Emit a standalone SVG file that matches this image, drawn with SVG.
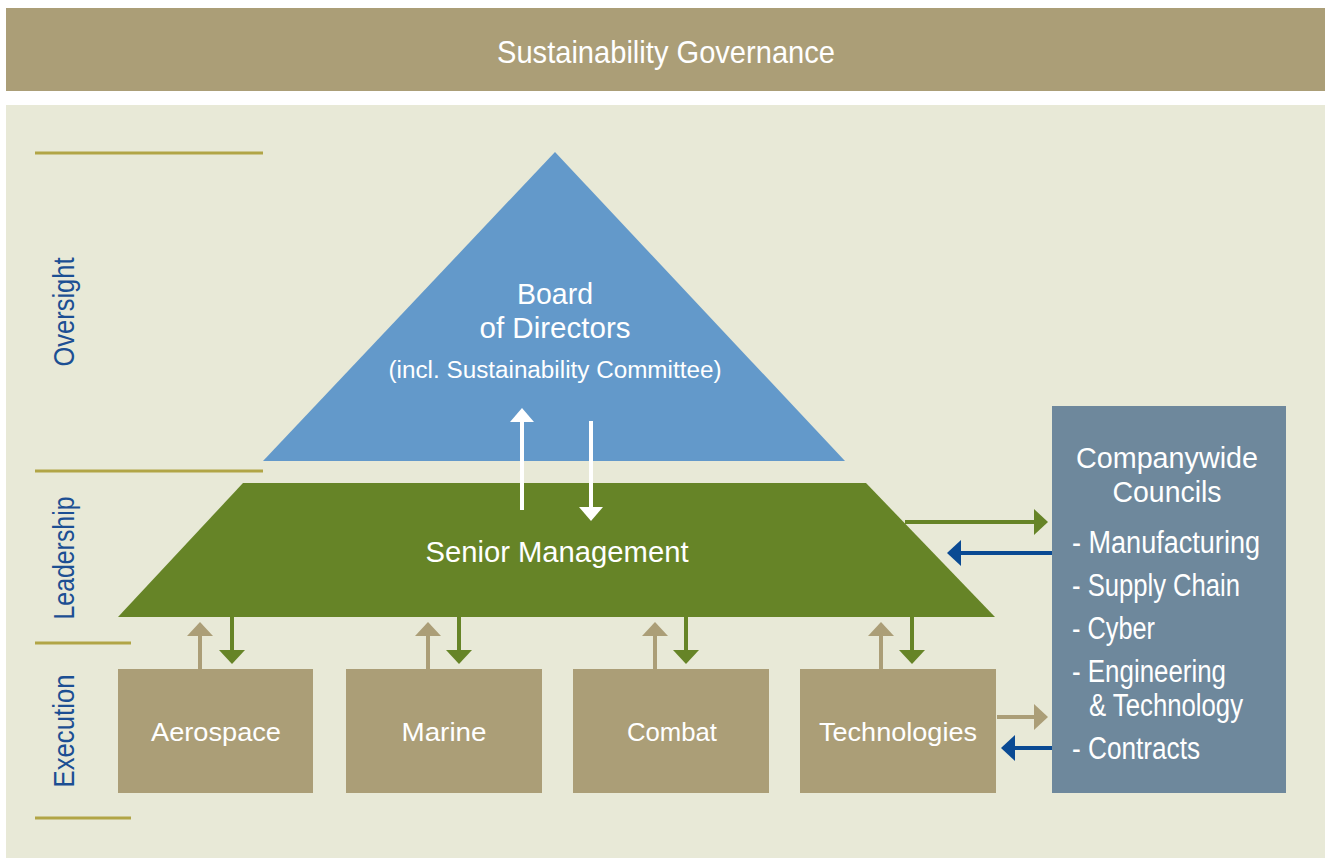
<svg xmlns="http://www.w3.org/2000/svg" width="1327" height="858" viewBox="0 0 1327 858">
<style>
.t{font-family:"Liberation Sans",Arial,sans-serif;fill:#fff}
.lbl{font-family:"Liberation Sans",Arial,sans-serif;fill:#1c4f93;font-size:30px}
.box{fill:#ab9e77}
.sep{stroke:#b1a546;stroke-width:3}
.aw{stroke:#fff;stroke-width:4;fill:none}
.ag{stroke:#668427;stroke-width:4;fill:none}
.at{stroke:#ab9e77;stroke-width:4;fill:none}
.ab{stroke:#0a4a93;stroke-width:4;fill:none}
</style>
<defs>
<marker id="hw" viewBox="0 0 14 24" refX="4" refY="12" markerWidth="14" markerHeight="24" markerUnits="userSpaceOnUse" orient="auto"><path d="M0,0L14,12L0,24z" fill="#fff"/></marker>
<marker id="hg" viewBox="0 0 14 26" refX="4" refY="13" markerWidth="14" markerHeight="26" markerUnits="userSpaceOnUse" orient="auto"><path d="M0,0L14,13L0,26z" fill="#668427"/></marker>
<marker id="ht" viewBox="0 0 14 26" refX="4" refY="13" markerWidth="14" markerHeight="26" markerUnits="userSpaceOnUse" orient="auto"><path d="M0,0L14,13L0,26z" fill="#ab9e77"/></marker>
<marker id="hb" viewBox="0 0 14 26" refX="4" refY="13" markerWidth="14" markerHeight="26" markerUnits="userSpaceOnUse" orient="auto"><path d="M0,0L14,13L0,26z" fill="#0a4a93"/></marker>
</defs>
<rect width="1327" height="858" fill="#fff"/>
<g id="title">
<rect x="6" y="8" width="1319" height="83" fill="#ab9e77"/>
<text class="t" x="666" y="63" font-size="32" text-anchor="middle" textLength="338" lengthAdjust="spacingAndGlyphs">Sustainability Governance</text>
</g>
<rect x="6" y="105" width="1319" height="753" fill="#e8e9d7"/>
<g id="levels">
<line class="sep" x1="35" y1="153" x2="263" y2="153"/>
<line class="sep" x1="35" y1="471" x2="263" y2="471"/>
<line class="sep" x1="35" y1="643" x2="131" y2="643"/>
<line class="sep" x1="35" y1="818" x2="131" y2="818"/>
<text class="lbl" transform="translate(74,312) rotate(-90)" text-anchor="middle" textLength="109" lengthAdjust="spacingAndGlyphs">Oversight</text>
<text class="lbl" transform="translate(74,558) rotate(-90)" text-anchor="middle" textLength="123" lengthAdjust="spacingAndGlyphs">Leadership</text>
<text class="lbl" transform="translate(74,731) rotate(-90)" text-anchor="middle" textLength="113" lengthAdjust="spacingAndGlyphs">Execution</text>
</g>
<g id="board">
<polygon points="555,152 845,461 263,461" fill="#6399ca"/>
<text class="t" x="555" y="304" font-size="30" text-anchor="middle" textLength="76" lengthAdjust="spacingAndGlyphs">Board</text>
<text class="t" x="555" y="338" font-size="30" text-anchor="middle" textLength="151" lengthAdjust="spacingAndGlyphs">of Directors</text>
<text class="t" x="555" y="378" font-size="23" text-anchor="middle" textLength="333" lengthAdjust="spacingAndGlyphs">(incl. Sustainability Committee)</text>
</g>
<g id="senior">
<polygon points="243,483 866,483 995,617 118,617" fill="#668427"/>
<text class="t" x="557" y="562" font-size="29" text-anchor="middle" textLength="263" lengthAdjust="spacingAndGlyphs">Senior Management</text>
</g>
<g id="aerospace"><rect class="box" x="118" y="669" width="195" height="124"/><text class="t" x="216" y="741" font-size="26" text-anchor="middle" textLength="130" lengthAdjust="spacingAndGlyphs">Aerospace</text></g>
<g id="marine"><rect class="box" x="346" y="669" width="196" height="124"/><text class="t" x="444" y="741" font-size="26" text-anchor="middle" textLength="85" lengthAdjust="spacingAndGlyphs">Marine</text></g>
<g id="combat"><rect class="box" x="573" y="669" width="196" height="124"/><text class="t" x="672" y="741" font-size="26" text-anchor="middle" textLength="90" lengthAdjust="spacingAndGlyphs">Combat</text></g>
<g id="technologies"><rect class="box" x="800" y="669" width="196" height="124"/><text class="t" x="898" y="741" font-size="26" text-anchor="middle" textLength="158" lengthAdjust="spacingAndGlyphs">Technologies</text></g>
<g id="councils">
<rect x="1052" y="406" width="234" height="387" fill="#6e889c"/>
<text class="t" x="1167" y="468" font-size="30" text-anchor="middle" textLength="182" lengthAdjust="spacingAndGlyphs">Companywide</text>
<text class="t" x="1167" y="502" font-size="30" text-anchor="middle" textLength="109" lengthAdjust="spacingAndGlyphs">Councils</text>
<text class="t" x="1072" y="553" font-size="31" textLength="188" lengthAdjust="spacingAndGlyphs">- Manufacturing</text>
<text class="t" x="1072" y="596" font-size="31" textLength="168" lengthAdjust="spacingAndGlyphs">- Supply Chain</text>
<text class="t" x="1072" y="639" font-size="31" textLength="83" lengthAdjust="spacingAndGlyphs">- Cyber</text>
<text class="t" x="1072" y="682" font-size="31" textLength="154" lengthAdjust="spacingAndGlyphs">- Engineering</text>
<text class="t" x="1089" y="716" font-size="31" textLength="154" lengthAdjust="spacingAndGlyphs">&amp; Technology</text>
<text class="t" x="1072" y="759" font-size="31" textLength="128" lengthAdjust="spacingAndGlyphs">- Contracts</text>
</g>
<g id="connectors">
<line class="aw" x1="522" y1="510" x2="522" y2="418" marker-end="url(#hw)"/>
<line class="aw" x1="591" y1="421" x2="591" y2="511" marker-end="url(#hw)"/>
<line class="ag" x1="905" y1="522" x2="1038" y2="522" marker-end="url(#hg)"/>
<line class="ab" x1="1052" y1="553" x2="957" y2="553" marker-end="url(#hb)"/>
<line class="at" x1="997" y1="717" x2="1038" y2="717" marker-end="url(#ht)"/>
<line class="ab" x1="1052" y1="748" x2="1011" y2="748" marker-end="url(#hb)"/>
<line class="at" x1="200" y1="669" x2="200" y2="632" marker-end="url(#ht)"/>
<line class="ag" x1="232" y1="617" x2="232" y2="654" marker-end="url(#hg)"/>
<line class="at" x1="428" y1="669" x2="428" y2="632" marker-end="url(#ht)"/>
<line class="ag" x1="459" y1="617" x2="459" y2="654" marker-end="url(#hg)"/>
<line class="at" x1="655" y1="669" x2="655" y2="632" marker-end="url(#ht)"/>
<line class="ag" x1="686" y1="617" x2="686" y2="654" marker-end="url(#hg)"/>
<line class="at" x1="881" y1="669" x2="881" y2="632" marker-end="url(#ht)"/>
<line class="ag" x1="912" y1="617" x2="912" y2="654" marker-end="url(#hg)"/>
</g>
</svg>
